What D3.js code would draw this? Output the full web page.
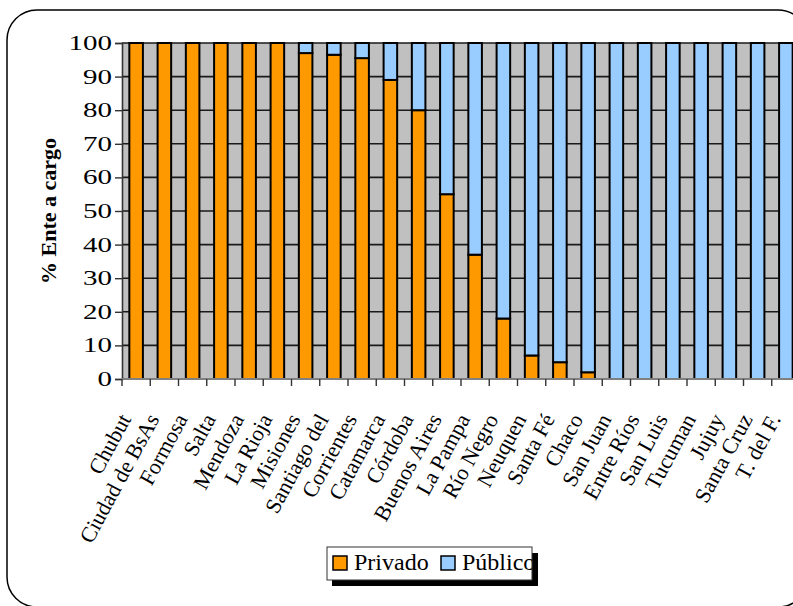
<!DOCTYPE html>
<html>
<head>
<meta charset="utf-8">
<script src="https://cdn.jsdelivr.net/npm/d3@7"></script>
<style>
  html, body { margin: 0; padding: 0; background: #fff; }
  svg { display: block; }
</style>
</head>
<body>
<svg id="chart" width="793" height="606"></svg>
<script>
// Provincias y porcentaje de ente a cargo (privado / público)
const provincias = [
  "Chubut", "Ciudad de BsAs", "Formosa", "Salta", "Mendoza", "La Rioja",
  "Misiones", "Santiago del", "Corrientes", "Catamarca", "Córdoba",
  "Buenos Aires", "La Pampa", "Río Negro", "Neuquen", "Santa Fé", "Chaco",
  "San Juan", "Entre Ríos", "San Luis", "Tucuman", "Jujuy", "Santa Cruz",
  "T. del F."
];
const privado = [100, 100, 100, 100, 100, 100, 97, 96.5, 95.5, 89, 80, 55, 37, 18, 7, 5, 2, 0, 0, 0, 0, 0, 0, 0];
const publico = [0, 0, 0, 0, 0, 0, 3, 3.5, 4.5, 11, 20, 45, 63, 82, 93, 95, 98, 100, 100, 100, 100, 100, 100, 100];
const series = ["Privado", "Público"];
const seriesColors = ["#FF9900", "#99CCFF"];
const yTicks = [0, 10, 20, 30, 40, 50, 60, 70, 80, 90, 100];
const yTitle = "% Ente a cargo";

const svg = d3.select("#chart");
const serif = "'Liberation Serif', 'Times New Roman', serif";

// Marco redondeado del gráfico
svg.append("rect")
  .attr("x", 7).attr("y", 10)
  .attr("width", 801).attr("height", 597)
  .attr("rx", 30).attr("ry", 30)
  .attr("fill", "#fff")
  .attr("stroke", "#000").attr("stroke-width", 1.5);

const plot = { left: 122, right: 800, top: 43, bottom: 379 };

const x = d3.scaleBand()
  .domain(provincias)
  .range([plot.left, plot.right])
  .paddingInner(0.52)
  .paddingOuter(0.26);
const step = x.step();

const y = d3.scaleLinear().domain([0, 100]).range([plot.bottom, plot.top]);

// Fondo del área de trazado
svg.append("rect")
  .attr("x", plot.left).attr("y", plot.top)
  .attr("width", plot.right - plot.left).attr("height", plot.bottom - plot.top)
  .attr("fill", "#C0C0C0");

// Líneas de división horizontales
svg.append("g")
  .selectAll("line")
  .data(yTicks.filter(t => t > 0))
  .join("line")
  .attr("x1", plot.left).attr("x2", plot.right)
  .attr("y1", d => y(d)).attr("y2", d => y(d))
  .attr("stroke", "#1a1a1a").attr("stroke-width", 1.6);

// Barras apiladas
const rows = provincias.map((p, i) => ({ provincia: p, Privado: privado[i], "Público": publico[i] }));
const stacked = d3.stack().keys(series)(rows);

svg.append("g")
  .selectAll("g")
  .data(stacked)
  .join("g")
  .attr("fill", (d, i) => seriesColors[i])
  .selectAll("rect")
  .data(d => d.filter(s => s[1] - s[0] > 0))
  .join("rect")
  .attr("x", d => x(d.data.provincia))
  .attr("width", x.bandwidth())
  .attr("y", d => y(d[1]))
  .attr("height", d => y(d[0]) - y(d[1]))
  .attr("stroke", "#000")
  .attr("stroke-width", 2);

// Eje Y (rótulos ensanchados horizontalmente)
const tickStretch = 1.45;
const yAxis = d3.axisLeft(y).tickValues(yTicks).tickSize(7).tickPadding(3);
const gy = svg.append("g")
  .attr("transform", `translate(${plot.left},0)`)
  .call(yAxis)
  .attr("font-family", null)
  .attr("font-size", null);
gy.select(".domain").attr("stroke", "#333").attr("stroke-width", 1.6);
gy.selectAll(".tick line").attr("stroke", "#333").attr("stroke-width", 1.4);
gy.selectAll(".tick text")
  .attr("fill", "#000")
  .attr("font-family", serif)
  .attr("font-size", 20)
  .attr("x", -10 / tickStretch)
  .attr("transform", `scale(${tickStretch},1)`);

// Eje X: marcas en los límites de cada categoría
const gx = svg.append("g").attr("transform", `translate(0,${plot.bottom})`);
gx.append("line")
  .attr("x1", plot.left).attr("x2", plot.right)
  .attr("stroke", "#808080").attr("stroke-width", 2);
gx.selectAll("line.tk")
  .data(d3.range(provincias.length + 1))
  .join("line")
  .attr("class", "tk")
  .attr("x1", i => plot.left + i * step).attr("x2", i => plot.left + i * step)
  .attr("y1", 0).attr("y2", 7)
  .attr("stroke", "#333").attr("stroke-width", 1.4);

// Etiquetas de provincias, giradas
svg.append("g")
  .selectAll("text")
  .data(provincias)
  .join("text")
  .attr("transform", d => `translate(${x(d) + x.bandwidth() / 2 - 4.5},419) rotate(-61.5)`)
  .attr("text-anchor", "end")
  .attr("font-family", serif)
  .attr("font-size", 22)
  .attr("fill", "#000")
  .text(d => d);

// Título del eje Y
svg.append("text")
  .attr("transform", `translate(56,${(plot.top + plot.bottom) / 2}) rotate(-90)`)
  .attr("text-anchor", "middle")
  .attr("font-family", serif)
  .attr("font-size", 22)
  .attr("font-weight", "bold")
  .attr("fill", "#000")
  .text(yTitle);

// Leyenda con sombra
const legend = svg.append("g").attr("transform", "translate(327,547)");
legend.append("defs").append("clipPath").attr("id", "legend-clip")
  .append("rect").attr("x", 0).attr("y", 0).attr("width", 205).attr("height", 33);
legend.append("rect")
  .attr("x", 5).attr("y", 6).attr("width", 206).attr("height", 33)
  .attr("fill", "#000");
legend.append("rect")
  .attr("x", 0).attr("y", 0).attr("width", 205).attr("height", 33)
  .attr("fill", "#fff");
const legendX = [6, 114];
const items = legend.append("g").attr("clip-path", "url(#legend-clip)")
  .selectAll("g.item")
  .data(series)
  .join("g")
  .attr("class", "item")
  .attr("transform", (d, i) => `translate(${legendX[i]},0)`);
items.append("rect")
  .attr("x", 0).attr("y", 9).attr("width", 14).attr("height", 14)
  .attr("fill", (d, i) => seriesColors[i])
  .attr("stroke", "#000").attr("stroke-width", 1.5);
items.append("text")
  .attr("x", 21).attr("y", 23)
  .attr("font-family", serif)
  .attr("font-size", 24)
  .attr("fill", "#000")
  .text(d => d);
legend.append("rect")
  .attr("x", 0).attr("y", 0).attr("width", 205).attr("height", 33)
  .attr("fill", "none").attr("stroke", "#333").attr("stroke-width", 1);
</script>
</body>
</html>
